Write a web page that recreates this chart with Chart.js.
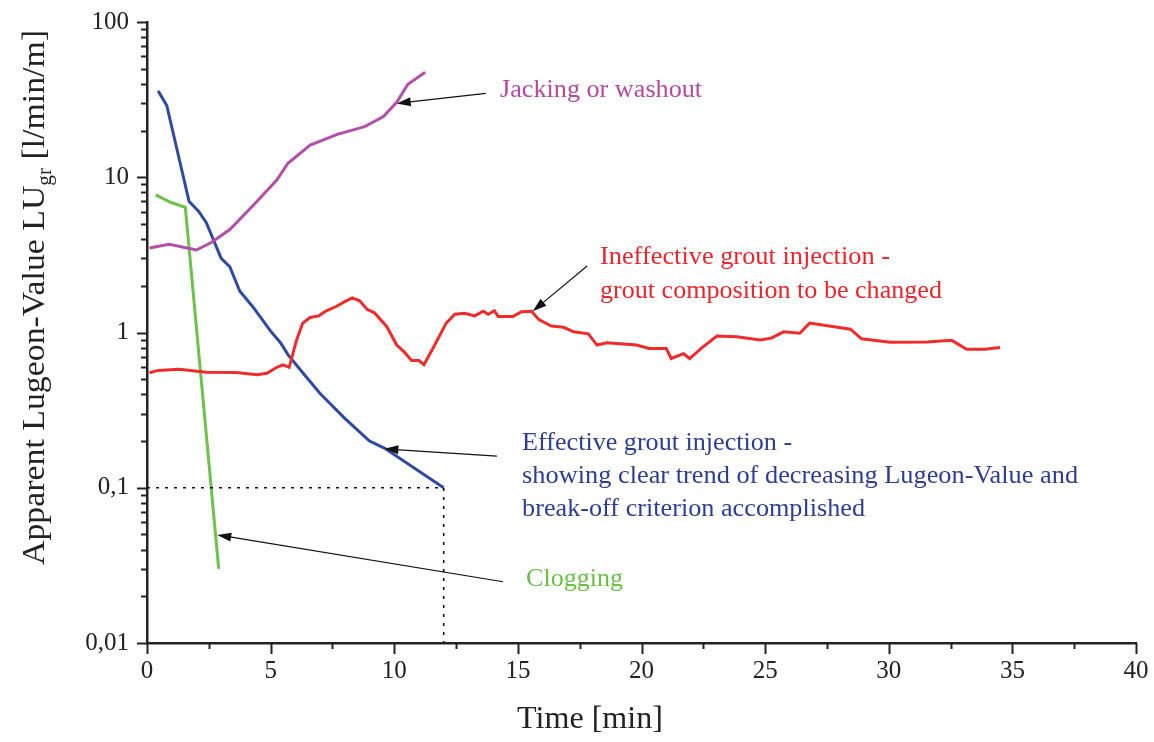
<!DOCTYPE html>
<html>
<head>
<meta charset="utf-8">
<script src="https://cdn.jsdelivr.net/npm/chart.js@4"></script>
<style>
  html, body { margin: 0; padding: 0; background: #fff; }
  canvas { display: block; }
</style>
</head>
<body>
<canvas id="chart" width="1154" height="742"></canvas>
<script>
// Data (time in minutes, apparent Lugeon value in l/min/m)
const effectiveTime = [0.45, 0.8, 1.7, 2.1, 2.4, 3.0, 3.35, 3.75, 4.3, 5.0, 5.4, 5.7, 6.3, 7.0, 8.0, 9.0, 9.6, 12.0];
const effectiveLU = [36, 29, 7.0, 6.0, 5.1, 3.0, 2.65, 1.85, 1.45, 1.02, 0.86, 0.72, 0.55, 0.405, 0.28, 0.2, 0.18, 0.1];

const cloggingTime = [0.35, 0.95, 1.55, 2.9];
const cloggingLU = [7.7, 6.9, 6.4, 0.03];

const jackingTime = [0.1, 0.9, 2.0, 2.6, 3.35, 4.3, 5.25, 5.7, 6.6, 7.7, 8.8, 9.55, 10.1, 10.55, 11.25];
const jackingLU = [3.5, 3.7, 3.4, 3.8, 4.6, 6.6, 9.6, 12.3, 16.1, 18.9, 21.2, 24.5, 30.4, 39.7, 47.4];

const ineffectiveTime = [0.1, 0.45, 1.3, 2.4, 3.6, 4.45, 4.85, 5.25, 5.5, 5.75, 6.05, 6.3, 6.6, 6.95, 7.25, 7.65, 8.0, 8.3,
    8.6, 8.9, 9.2, 9.7, 10.1, 10.4, 10.7, 11.0, 11.2, 11.6, 12.1, 12.45, 12.85, 13.25, 13.6, 13.8, 14.05, 14.2, 14.8,
    15.15, 15.55, 15.85, 16.35, 16.85, 17.25, 17.85, 18.2, 18.6, 19.8, 20.3, 21.0, 21.2, 21.7, 21.95, 22.45, 23.05,
    23.85, 24.8, 25.25, 25.75, 26.4, 26.8, 28.45, 28.9, 30.05, 31.55, 32.55, 33.15, 33.9, 34.5];
const ineffectiveLU = [0.55, 0.57, 0.58, 0.555, 0.553, 0.535, 0.546, 0.597, 0.618, 0.597, 0.895, 1.15, 1.25, 1.28, 1.38, 1.47, 1.58, 1.67,
    1.6, 1.41, 1.34, 1.09, 0.83, 0.75, 0.66, 0.66, 0.62, 0.81, 1.15, 1.31, 1.33, 1.28, 1.37, 1.31, 1.38, 1.27, 1.27,
    1.36, 1.37, 1.21, 1.1, 1.08, 1.01, 0.98, 0.83, 0.86, 0.83, 0.79, 0.79, 0.68, 0.73, 0.68, 0.8, 0.95,
    0.94, 0.895, 0.92, 1.01, 0.99, 1.15, 1.05, 0.91, 0.865, 0.87, 0.89, 0.78, 0.78, 0.8];

// break-off criterion guide (dotted)
const criterionTime = [0, 12, 12];
const criterionLU = [0.1, 0.1, 0.01];

// axis ticks
const xMajorLabels = ['0', '5', '10', '15', '20', '25', '30', '35', '40'];
const yDecades = [0.01, 0.1, 1, 10, 100];
const yDecadeLabels = ['0,01', '0,1', '1', '10', '100'];

const SERIF = "'Liberation Serif', 'DejaVu Serif', serif";

function toPoints(xs, ys) {
    return xs.map((x, i) => ({ x: x, y: ys[i] }));
}

function lineSet(label, xs, ys, color) {
    return {
        label: label,
        data: toPoints(xs, ys),
        borderColor: color,
        borderWidth: 3,
        pointRadius: 0,
        tension: 0,
        fill: false
    };
}

// Draw text squeezed/stretched to a given width so it sits like the original
function fitText(ctx, text, x, y, size, width, color) {
    ctx.save();
    ctx.font = size + "px " + SERIF;
    ctx.fillStyle = color;
    ctx.textBaseline = "middle";
    ctx.textAlign = "left";
    const w = ctx.measureText(text).width;
    ctx.translate(x, y);
    ctx.scale(width / w, 1);
    ctx.fillText(text, 0, 0);
    ctx.restore();
}

function arrow(ctx, x0, y0, x1, y1) {
    const ang = Math.atan2(y1 - y0, x1 - x0);
    const len = 14, half = 4.5;
    ctx.save();
    ctx.strokeStyle = "#111";
    ctx.fillStyle = "#111";
    ctx.lineWidth = 1.2;
    ctx.beginPath();
    ctx.moveTo(x0, y0);
    ctx.lineTo(x1 - Math.cos(ang) * len * 0.8, y1 - Math.sin(ang) * len * 0.8);
    ctx.stroke();
    ctx.beginPath();
    ctx.moveTo(x1, y1);
    ctx.lineTo(x1 - Math.cos(ang) * len + Math.sin(ang) * half, y1 - Math.sin(ang) * len - Math.cos(ang) * half);
    ctx.lineTo(x1 - Math.cos(ang) * len - Math.sin(ang) * half, y1 - Math.sin(ang) * len + Math.cos(ang) * half);
    ctx.closePath();
    ctx.fill();
    ctx.restore();
}

// Annotations: arrow tail/tip and text anchors in data units
const notes = [
    { color: "#b5489f", tail: [13.7, 34.7], tip: [10.1, 29.9],
      lines: [{ text: "Jacking or washout", at: [14.28, 36.5], width: 202 }] },
    { color: "#e8262b", tail: [17.8, 2.68], tip: [15.6, 1.37],
      lines: [{ text: "Ineffective grout injection -", at: [18.32, 3.06], width: 290 },
              { text: "grout composition to be changed", at: [18.32, 1.85], width: 342 }] },
    { color: "#2e3d94", tail: [14.15, 0.16], tip: [9.6, 0.178],
      lines: [{ text: "Effective grout injection -", at: [15.17, 0.194], width: 270 },
              { text: "showing clear trend of decreasing Lugeon-Value and", at: [15.17, 0.119], width: 556 },
              { text: "break-off criterion accomplished", at: [15.17, 0.073], width: 343 }] },
    { color: "#6abf45", tail: [14.4, 0.0248], tip: [2.84, 0.0497],
      lines: [{ text: "Clogging", at: [15.33, 0.0255], width: 97 }] }
];

const decorations = {
    id: "decorations",
    afterDraw(chart) {
        const ctx = chart.ctx;
        const xs = chart.scales.x, ys = chart.scales.y;
        const area = chart.chartArea;

        // tick marks (outward, major longer)
        ctx.save();
        ctx.strokeStyle = "#222";
        ctx.lineWidth = 2;
        xs.ticks.forEach(t => {
            const px = Math.round(xs.getPixelForValue(t.value)) + 0.5;
            const major = t.value % 5 === 0;
            ctx.beginPath();
            ctx.moveTo(px, area.bottom);
            ctx.lineTo(px, area.bottom + (major ? 11 : 6));
            ctx.stroke();
        });
        ys.ticks.forEach(t => {
            const py = Math.round(ys.getPixelForValue(t.value)) + 0.5;
            const major = yDecades.some(d => Math.abs(d - t.value) < d * 1e-6);
            ctx.beginPath();
            ctx.moveTo(area.left, py);
            ctx.lineTo(area.left - (major ? 10 : 6), py);
            ctx.stroke();
        });
        ctx.restore();

        // annotations
        notes.forEach(n => {
            arrow(ctx, xs.getPixelForValue(n.tail[0]), ys.getPixelForValue(n.tail[1]),
                xs.getPixelForValue(n.tip[0]), ys.getPixelForValue(n.tip[1]));
            n.lines.forEach(l => {
                fitText(ctx, l.text, xs.getPixelForValue(l.at[0]), ys.getPixelForValue(l.at[1]), 25, l.width, n.color);
            });
        });

        // x axis title
        fitText(ctx, "Time [min]", 517, 720, 31, 146, "#222");

        // y axis title with subscript, rotated
        ctx.save();
        ctx.translate(44, 565);
        ctx.rotate(-Math.PI / 2);
        ctx.fillStyle = "#222";
        ctx.textBaseline = "alphabetic";
        const big = "32px " + SERIF, small = "20px " + SERIF;
        const parts = [
            { t: "Apparent Lugeon-Value LU", f: big, dy: 0 },
            { t: "gr", f: small, dy: 7 },
            { t: " [l/min/m]", f: big, dy: 0 }
        ];
        let total = 0;
        parts.forEach(p => { ctx.font = p.f; p.w = ctx.measureText(p.t).width; total += p.w; });
        ctx.scale(535 / total, 1);
        let cx = 0;
        parts.forEach(p => { ctx.font = p.f; ctx.fillText(p.t, cx, p.dy); cx += p.w; });
        ctx.restore();
    }
};

const ctx = document.getElementById("chart").getContext("2d");
const chart = new Chart(ctx, {
    type: "line",
    data: {
        datasets: [
            {
                label: "criterion",
                data: toPoints(criterionTime, criterionLU),
                borderColor: "#111",
                borderWidth: 1.6,
                borderDash: [3, 6],
                pointRadius: 0,
                fill: false
            },
            lineSet("Ineffective grout injection", ineffectiveTime, ineffectiveLU, "#ef2b2b"),
            lineSet("Jacking or washout", jackingTime, jackingLU, "#b34fa8"),
            lineSet("Clogging", cloggingTime, cloggingLU, "#6cc24a"),
            lineSet("Effective grout injection", effectiveTime, effectiveLU, "#2f4ba0")
        ]
    },
    options: {
        responsive: false,
        animation: false,
        devicePixelRatio: 1,
        layout: { padding: { top: 22, right: 18, left: 0, bottom: 0 } },
        plugins: {
            legend: { display: false },
            tooltip: { enabled: false }
        },
        scales: {
            x: {
                type: "linear",
                min: 0,
                max: 40,
                grid: { display: false, drawTicks: false },
                border: { display: true, color: "#222", width: 2.5 },
                ticks: {
                    stepSize: 2.5,
                    autoSkip: false,
                    maxRotation: 0,
                    padding: 13,
                    color: "#222",
                    font: { family: SERIF, size: 25 },
                    callback: v => (v % 5 === 0 ? xMajorLabels[v / 5] : "")
                },
                afterFit: s => {
                    s.height = 99;
                    s.paddingLeft = 0;
                    s.paddingRight = 0;
                }
            },
            y: {
                type: "logarithmic",
                min: 0.01,
                max: 100,
                grid: { display: false, drawTicks: false },
                border: { display: true, color: "#222", width: 2.5 },
                afterBuildTicks: s => {
                    const ticks = [];
                    yDecades.forEach((d, i) => {
                        if (i === yDecades.length - 1) { ticks.push({ value: d }); return; }
                        for (let k = 1; k < 10; k++) ticks.push({ value: d * k });
                    });
                    s.ticks = ticks;
                },
                ticks: {
                    autoSkip: false,
                    padding: 18,
                    color: "#222",
                    font: { family: SERIF, size: 25 },
                    callback: v => {
                        const i = yDecades.findIndex(d => Math.abs(d - v) < d * 1e-6);
                        return i >= 0 ? yDecadeLabels[i] : "";
                    }
                },
                afterFit: s => {
                    s.width = 147;
                    s.paddingTop = 0;
                    s.paddingBottom = 0;
                }
            }
        }
    },
    plugins: [decorations]
});
</script>
</body>
</html>
